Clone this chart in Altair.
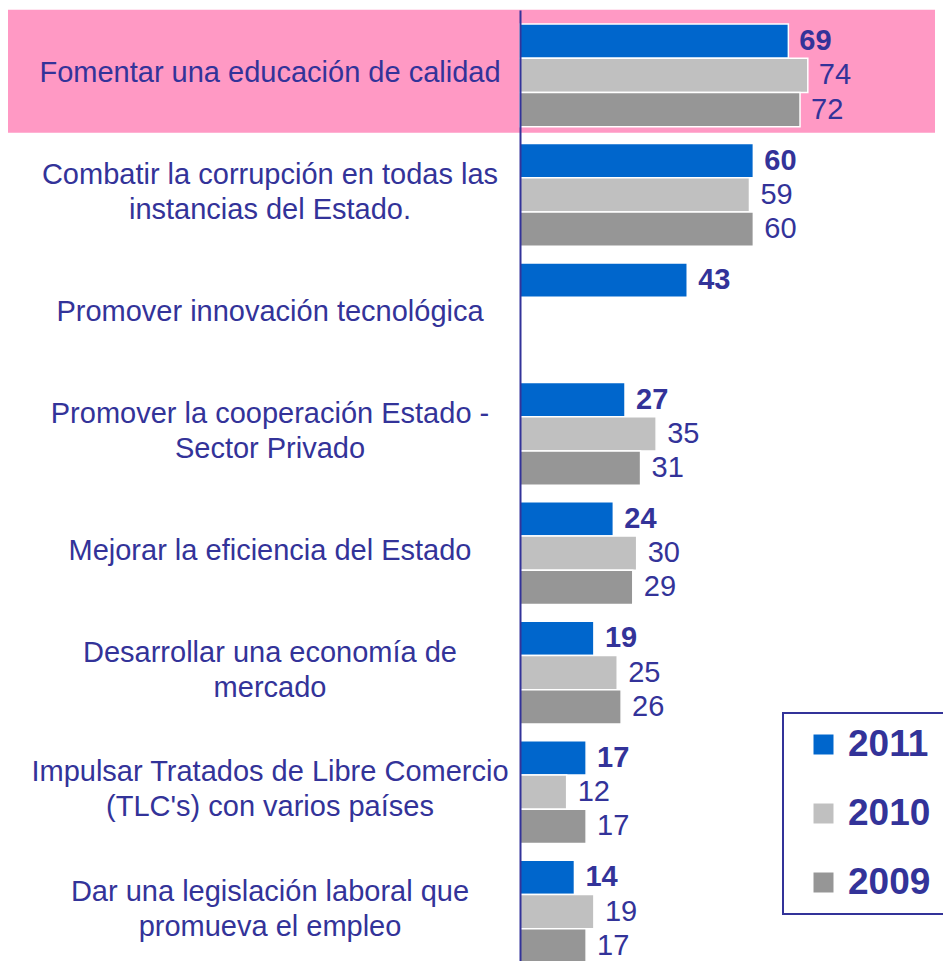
import altair as alt
import pandas as pd

categories = [
    "Fomentar una educación de calidad",
    "Combatir la corrupción en todas las\ninstancias del Estado.",
    "Promover innovación tecnológica",
    "Promover la cooperación Estado -\nSector Privado",
    "Mejorar la eficiencia del Estado",
    "Desarrollar una economía de\nmercado",
    "Impulsar Tratados de Libre Comercio\n(TLC's) con varios países",
    "Dar una legislación laboral que\npromueva el empleo",
]
years = ["2011", "2010", "2009"]
v2011 = [69, 60, 43, 27, 24, 19, 17, 14]
v2010 = [74, 59, None, 35, 30, 25, 12, 19]
v2009 = [72, 60, None, 31, 29, 26, 17, 17]
highlight = ["Fomentar una educación de calidad"]

rows = []
for yr, vals in zip(years, [v2011, v2010, v2009]):
    for c, v in zip(categories, vals):
        if v is not None:
            rows.append({"category": c, "year": yr, "value": v})
df = pd.DataFrame(rows)
cat_df = pd.DataFrame({"category": categories})
hl_df = pd.DataFrame({"category": highlight})

NAVY = "#333399"
FONT = "Liberation Sans"

yscale = alt.Scale(domain=categories, range=[1, 968], paddingInner=0.14, paddingOuter=0.117)
xscale = alt.Scale(domain=[0, 106.7])
y_enc = alt.Y("category:N", scale=yscale, sort=categories,
              axis=alt.Axis(labels=False, ticks=False, title=None, domainColor=NAVY,
                            domainWidth=2, zindex=1))
yoff = alt.YOffset("year:N", scale=alt.Scale(domain=years, paddingInner=0, paddingOuter=0))

pink = alt.Chart(hl_df).mark_bar(size=123, yOffset=-4, color="#FF99C4").encode(
    y=y_enc,
    x=alt.value(-513),
    x2=alt.value(415),
)

bars = alt.Chart(df).mark_bar(stroke="white", strokeWidth=1.5).encode(
    y=y_enc,
    yOffset=yoff,
    x=alt.X("value:Q", scale=xscale, axis=None),
    color=alt.Color(
        "year:N",
        scale=alt.Scale(domain=years, range=["#0066CC", "#C0C0C0", "#969696"]),
        legend=alt.Legend(
            title=None, orient="none", legendX=263, legendY=704,
            padding=13, symbolOffset=9, labelOffset=6, rowPadding=31,
            symbolType="square", symbolSize=400, symbolStrokeWidth=0,
            labelFontSize=37, labelFont=FONT, labelFontWeight="bold", labelColor=NAVY,
            strokeColor=NAVY, fillColor="white",
        ),
    ),
)

vals_bold = alt.Chart(df).transform_filter(alt.datum.year == "2011").mark_text(
    align="left", baseline="middle", dx=11, fontSize=29, font=FONT, fontWeight="bold", color=NAVY
).encode(y=y_enc, yOffset=yoff, x=alt.X("value:Q", scale=xscale, axis=None), text="value:Q")

vals_plain = alt.Chart(df).transform_filter(alt.datum.year != "2011").mark_text(
    align="left", baseline="middle", dx=11, fontSize=29, font=FONT, color=NAVY
).encode(y=y_enc, yOffset=yoff, x=alt.X("value:Q", scale=xscale, axis=None), text="value:Q")

labels1 = alt.Chart(cat_df).transform_filter(
    "indexof(datum.category, '\\n') < 0"
).mark_text(
    align="center", baseline="middle", fontSize=29, font=FONT, color=NAVY, dy=-2
).encode(y=y_enc, x=alt.value(-250), text="category:N")

labels2 = alt.Chart(cat_df).transform_filter(
    "indexof(datum.category, '\\n') >= 0"
).mark_text(
    align="center", baseline="middle", lineBreak="\n", fontSize=29, font=FONT, color=NAVY,
    lineHeight=35, dy=-20
).encode(y=y_enc, x=alt.value(-250), text="category:N")

chart = alt.layer(pink, bars, vals_bold, vals_plain, labels1, labels2).properties(
    width=415, height=952,
    autosize=alt.AutoSizeParams(type="none"),
    padding={"left": 512, "top": 1, "right": 8, "bottom": 0},
).configure_view(stroke=None).configure_legend(strokeWidth=2)

chart.save("out.html", embed_options={"renderer": "svg", "actions": False})
